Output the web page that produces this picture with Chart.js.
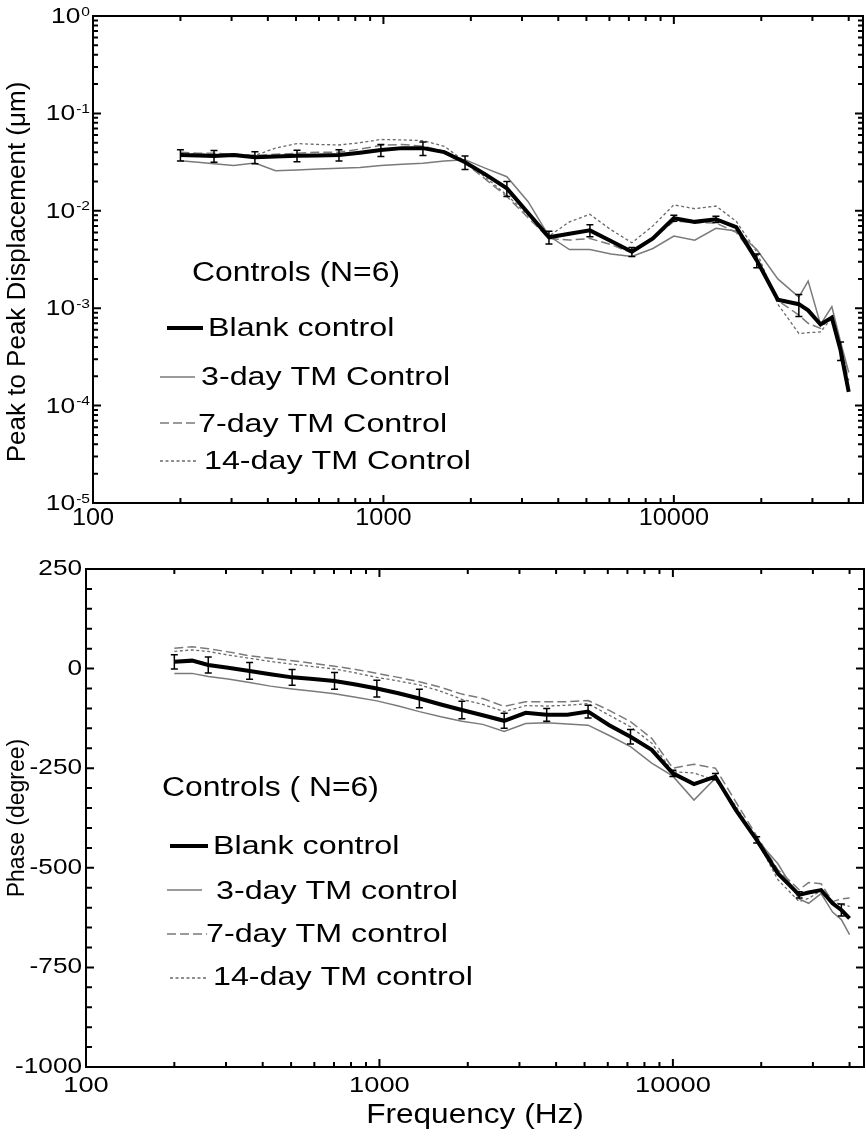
<!DOCTYPE html>
<html lang="en">
<head>
    <meta charset="UTF-8">
    <title>Controls (N=6) - displacement and phase</title>
    <script src="https://cdn.jsdelivr.net/npm/chart.js"></script>
    <style>
        body {
            margin: 0;
            background: #ffffff;
            width: 866px;
            height: 1143px;
            position: relative;
            overflow: hidden;
        }
        canvas {
            position: absolute;
            left: 0;
        }
    </style>
</head>
<body>
    <canvas id="ampChart" width="866" height="560" style="top:0"></canvas>
    <canvas id="phaseChart" width="866" height="583" style="top:560px"></canvas>

    <script>
        // frequencies (Hz) shared by every curve
        const freqs = [200, 230, 261, 305, 361, 425, 504, 595, 703, 830, 980, 1160, 1368, 1620, 1910, 2250,
            2661, 3150, 3715, 4370, 5140, 6070, 7170, 8470, 10000, 11800, 13960, 16400, 19300, 22800,
            26940, 29000, 32000, 35000, 37500, 40000];

        // peak to peak displacement (um)
        const ampBlank = [0.0374, 0.0370, 0.0365, 0.0375, 0.0354, 0.0360, 0.0368, 0.0370, 0.0374, 0.0395, 0.0420,
            0.0440, 0.0440, 0.0400, 0.0315, 0.0235, 0.0170, 0.0095, 0.00535, 0.0058, 0.0063, 0.0049, 0.0038,
            0.0052, 0.0084, 0.0077, 0.0082, 0.0068, 0.0031, 0.00122, 0.0011, 0.00095, 0.00068, 0.00080,
            0.00037, 0.000138];
        const ampBlankSD = [0.005, null, 0.005, null, 0.005, null, 0.005, null, 0.005, null, 0.006, null,
            0.007, null, 0.005, null, 0.003, null, 0.0008, null, 0.0009, null, 0.0004, null, 0.0006, null,
            0.0006, null, 0.0005, null, 0.00028, null, null, null, 0.00008, null];
        const amp3day = [0.0327, 0.0315, 0.0305, 0.0292, 0.0310, 0.0258, 0.0262, 0.0268, 0.0274, 0.0278, 0.0292,
            0.0300, 0.0307, 0.0325, 0.0335, 0.0273, 0.0224, 0.0124, 0.0055, 0.0040, 0.0040, 0.0036, 0.0034,
            0.0041, 0.0055, 0.0050, 0.0066, 0.0062, 0.0040, 0.0020, 0.0013, 0.0019, 0.00068, 0.00104,
            0.00045, 0.00022];
        const amp7day = [0.040, 0.039, 0.039, 0.038, 0.037, 0.038, 0.039, 0.040, 0.040, 0.043, 0.047, 0.048,
            0.046, 0.041, 0.031, 0.021, 0.014, 0.0085, 0.0052, 0.0050, 0.0052, 0.0045, 0.0037, 0.0052,
            0.0078, 0.0076, 0.0075, 0.0060, 0.0032, 0.0012, 0.00085, 0.00070, 0.00062, 0.00085, 0.00040,
            0.00018];
        const amp14day = [0.0385, 0.0385, 0.038, 0.0385, 0.037, 0.044, 0.049, 0.048, 0.0474, 0.050, 0.054,
            0.0535, 0.0525, 0.046, 0.032, 0.022, 0.0145, 0.009, 0.0055, 0.0077, 0.0092, 0.0064, 0.0047,
            0.0070, 0.0115, 0.0105, 0.0112, 0.0078, 0.0038, 0.0011, 0.00055, 0.00056, 0.00057, 0.00080,
            0.00040, 0.00022];

        // phase (degree)
        const phBlank = [17, 20, 9, 2, -6, -14, -22, -26, -31, -40, -50, -62, -75, -90, -104, -117, -131, -111,
            -116, -116, -108, -142, -171, -204, -263, -290, -271, -355, -430, -514, -568, -562, -556, -589,
            -606, -627];
        const phBlankSD = [18, null, 20, null, 21, null, 20, null, 21, null, 21, null, 23, null, 22, null, 19,
            null, 16, null, 16, null, 18, null, 8, null, 8, null, 8, null, 8, null, null, null, 15, null];
        const ph3day = [-12, -12, -20, -26, -35, -44, -51, -57, -63, -72, -81, -94, -108, -121, -132, -140, -158,
            -138, -136, -139, -142, -168, -196, -237, -270, -330, -275, -355, -429, -490, -578, -589, -565,
            -611, -630, -668];
        const ph7day = [51, 55, 50, 42, 32, 26, 20, 13, 6, -2, -12, -22, -33, -47, -64, -75, -95, -83, -83, -83,
            -80, -105, -133, -175, -250, -240, -250, -335, -420, -505, -555, -537, -540, -585, -578, -576];
        const ph14day = [43, 47, 43, 34, 26, 18, 11, 5, -1, -11, -22, -31, -41, -57, -77, -90, -108, -93, -94,
            -92, -88, -117, -146, -187, -259, -262, -280, -345, -430, -530, -585, -577, -557, -585, -592, -597];

        // axis ticks
        const xMajor = [100, 1000, 10000];
        const xMinor = [200, 300, 400, 500, 600, 700, 800, 900, 2000, 3000, 4000, 5000, 6000, 7000, 8000,
            9000, 20000, 30000, 40000];
        const ampExp = [0, -1, -2, -3, -4, -5];
        const ampMinorMant = [2, 3, 4, 5, 6, 7, 8, 9];
        const phMajor = [250, 0, -250, -500, -750, -1000];
        const phMinor = [200, 150, 100, 50, -50, -100, -150, -200, -300, -350, -400, -450, -550, -600, -650,
            -700, -800, -850, -900, -950];

        const FONT = '"Liberation Sans", Arial, Helvetica, sans-serif';

        function drawText(ctx, s, x, y, size, align, sx) {
            ctx.save();
            ctx.font = size + 'px ' + FONT;
            ctx.fillStyle = '#000';
            ctx.textAlign = align;
            ctx.textBaseline = 'middle';
            ctx.translate(x, y);
            ctx.scale(sx, 1);
            ctx.fillText(s, 0, 0);
            ctx.restore();
        }

        function textWidth(ctx, s, size, sx) {
            ctx.save();
            ctx.font = size + 'px ' + FONT;
            const w = ctx.measureText(s).width * sx;
            ctx.restore();
            return w;
        }

        function series(vals) {
            return freqs.map((f, i) => ({ x: f, y: vals[i] }));
        }

        const styles = {
            blank: { borderColor: '#000000', borderWidth: 4, borderDash: [] },
            d3: { borderColor: '#7a7a7a', borderWidth: 1.5, borderDash: [] },
            d7: { borderColor: '#7a7a7a', borderWidth: 1.5, borderDash: [9, 4] },
            d14: { borderColor: '#6a6a6a', borderWidth: 1.3, borderDash: [3, 2.5] }
        };

        function makeDatasets(blank, d3, d7, d14) {
            return [
                Object.assign({ label: 'Blank control', data: series(blank) }, styles.blank),
                Object.assign({ label: '3-day TM control', data: series(d3) }, styles.d3),
                Object.assign({ label: '7-day TM control', data: series(d7) }, styles.d7),
                Object.assign({ label: '14-day TM control', data: series(d14) }, styles.d14)
            ];
        }

        function drawLegend(ctx, header, entries) {
            drawText(ctx, header.text, header.x, header.y, 27, 'left', 1.18);
            entries.forEach(e => {
                const st = styles[e.key];
                ctx.save();
                ctx.strokeStyle = st.borderColor;
                ctx.lineWidth = st.borderWidth;
                ctx.setLineDash(st.borderDash);
                ctx.beginPath();
                ctx.moveTo(e.x0, e.ly);
                ctx.lineTo(e.x1, e.ly);
                ctx.stroke();
                ctx.restore();
                drawText(ctx, e.text, e.tx, e.ty, 26, 'left', 1.24);
            });
        }

        function drawVerticalTitle(ctx, s, x, y, size) {
            ctx.save();
            ctx.translate(x, y);
            ctx.rotate(-Math.PI / 2);
            ctx.font = size + 'px ' + FONT;
            ctx.fillStyle = '#000';
            ctx.textAlign = 'center';
            ctx.textBaseline = 'middle';
            ctx.fillText(s, 0, 0);
            ctx.restore();
        }

        function drawErrorBars(chart, means, sds) {
            const ctx = chart.ctx;
            const xs = chart.scales.x, ys = chart.scales.y;
            ctx.save();
            ctx.strokeStyle = '#000';
            ctx.lineWidth = 1.5;
            freqs.forEach((f, i) => {
                if (sds[i] == null) return;
                const x = xs.getPixelForValue(f);
                const y1 = ys.getPixelForValue(means[i] + sds[i]);
                const y2 = ys.getPixelForValue(means[i] - sds[i]);
                ctx.beginPath();
                ctx.moveTo(x, y1); ctx.lineTo(x, y2);
                ctx.moveTo(x - 3.5, y1); ctx.lineTo(x + 3.5, y1);
                ctx.moveTo(x - 3.5, y2); ctx.lineTo(x + 3.5, y2);
                ctx.stroke();
            });
            ctx.restore();
        }

        function drawFrame(chart, yMajor, yMinor, yMajorLen, yMinorLen) {
            const ctx = chart.ctx;
            const a = chart.chartArea;
            const xs = chart.scales.x, ys = chart.scales.y;
            ctx.save();
            ctx.strokeStyle = '#000';
            ctx.lineWidth = 2;
            ctx.strokeRect(a.left, a.top, a.right - a.left, a.bottom - a.top);
            ctx.beginPath();
            const xt = (v, len) => {
                const x = xs.getPixelForValue(v);
                ctx.moveTo(x, a.bottom); ctx.lineTo(x, a.bottom - len);
                ctx.moveTo(x, a.top); ctx.lineTo(x, a.top + len);
            };
            const yt = (v, len) => {
                const y = ys.getPixelForValue(v);
                ctx.moveTo(a.left, y); ctx.lineTo(a.left + len, y);
                ctx.moveTo(a.right, y); ctx.lineTo(a.right - len, y);
            };
            xMajor.forEach(v => xt(v, 8));
            xMinor.forEach(v => xt(v, 5));
            yMajor.forEach(v => yt(v, yMajorLen));
            yMinor.forEach(v => yt(v, yMinorLen));
            ctx.stroke();
            ctx.restore();
        }

        // ---------- displacement chart ----------
        const ampMajorVals = ampExp.map(e => Math.pow(10, e));
        const ampMinorVals = [];
        ampExp.slice(0, 5).forEach(e => {
            ampMinorMant.forEach(m => ampMinorVals.push(m * Math.pow(10, e - 1)));
        });

        const ampPlugin = {
            id: 'ampDecor',
            afterDatasetsDraw(chart) {
                drawErrorBars(chart, ampBlank, ampBlankSD);
            },
            afterDraw(chart) {
                const ctx = chart.ctx;
                const xs = chart.scales.x, ys = chart.scales.y;
                drawFrame(chart, ampMajorVals, ampMinorVals, 8, 5);

                // y tick labels: 10 with superscript exponent
                ampExp.forEach(e => {
                    const y = ys.getPixelForValue(Math.pow(10, e));
                    const es = String(e);
                    const ew = textWidth(ctx, es, 13, 1.2);
                    drawText(ctx, es, 90, y - 4, 13, 'right', 1.2);
                    drawText(ctx, '10', 90 - ew - 1, y + 1, 22, 'right', 1.2);
                });
                // x tick labels
                xMajor.forEach(v => {
                    drawText(ctx, String(v), xs.getPixelForValue(v), 519, 23, 'center', 1.1);
                });
                drawVerticalTitle(ctx, 'Peak to Peak Displacement (\u03bcm)', 18, 272, 26);

                drawLegend(ctx, { text: 'Controls (N=6)', x: 192, y: 274 }, [
                    { key: 'blank', x0: 167, x1: 203, ly: 328, text: 'Blank control', tx: 208, ty: 329 },
                    { key: 'd3', x0: 160, x1: 195, ly: 377, text: '3-day TM Control', tx: 201, ty: 378 },
                    { key: 'd7', x0: 160, x1: 197, ly: 423, text: '7-day TM Control', tx: 198, ty: 425 },
                    { key: 'd14', x0: 160, x1: 197, ly: 461, text: '14-day TM Control', tx: 204, ty: 462 }
                ]);
            }
        };

        new Chart(document.getElementById('ampChart').getContext('2d'), {
            type: 'line',
            data: { datasets: makeDatasets(ampBlank, amp3day, amp7day, amp14day) },
            options: {
                responsive: false,
                animation: false,
                devicePixelRatio: 1,
                layout: { padding: { left: 93, top: 16, right: 3, bottom: 57 } },
                elements: { point: { radius: 0 }, line: { tension: 0 } },
                scales: {
                    x: { type: 'logarithmic', min: 100, max: 44800, display: false },
                    y: { type: 'logarithmic', min: 0.00001, max: 1, display: false }
                },
                plugins: { legend: { display: false }, tooltip: { enabled: false } }
            },
            plugins: [ampPlugin]
        });

        // ---------- phase chart ----------
        const phasePlugin = {
            id: 'phaseDecor',
            afterDatasetsDraw(chart) {
                drawErrorBars(chart, phBlank, phBlankSD);
            },
            afterDraw(chart) {
                const ctx = chart.ctx;
                const xs = chart.scales.x, ys = chart.scales.y;
                drawFrame(chart, phMajor, phMinor, 8, 6);

                phMajor.forEach(v => {
                    drawText(ctx, String(v), 82, ys.getPixelForValue(v), 22, 'right', 1.19);
                });
                xMajor.forEach(v => {
                    drawText(ctx, String(v), xs.getPixelForValue(v), 526, 22, 'center', 1.24);
                });
                drawText(ctx, 'Frequency (Hz)', 475, 556, 27, 'center', 1.17);
                drawVerticalTitle(ctx, 'Phase (degree)', 18, 258, 23);

                drawLegend(ctx, { text: 'Controls ( N=6)', x: 162, y: 229 }, [
                    { key: 'blank', x0: 170, x1: 208, ly: 286, text: 'Blank control', tx: 213, ty: 287 },
                    { key: 'd3', x0: 167, x1: 202, ly: 330, text: '3-day TM control', tx: 216, ty: 332 },
                    { key: 'd7', x0: 167, x1: 207, ly: 374, text: '7-day TM control', tx: 206, ty: 375 },
                    { key: 'd14', x0: 170, x1: 208, ly: 418, text: '14-day TM control', tx: 213, ty: 418 }
                ]);
            }
        };

        new Chart(document.getElementById('phaseChart').getContext('2d'), {
            type: 'line',
            data: { datasets: makeDatasets(phBlank, ph3day, ph7day, ph14day) },
            options: {
                responsive: false,
                animation: false,
                devicePixelRatio: 1,
                layout: { padding: { left: 86, top: 9, right: 2, bottom: 76 } },
                elements: { point: { radius: 0 }, line: { tension: 0 } },
                scales: {
                    x: { type: 'logarithmic', min: 100, max: 44800, display: false },
                    y: { type: 'linear', min: -1000, max: 250, display: false }
                },
                plugins: { legend: { display: false }, tooltip: { enabled: false } }
            },
            plugins: [phasePlugin]
        });
    </script>
</body>
</html>
